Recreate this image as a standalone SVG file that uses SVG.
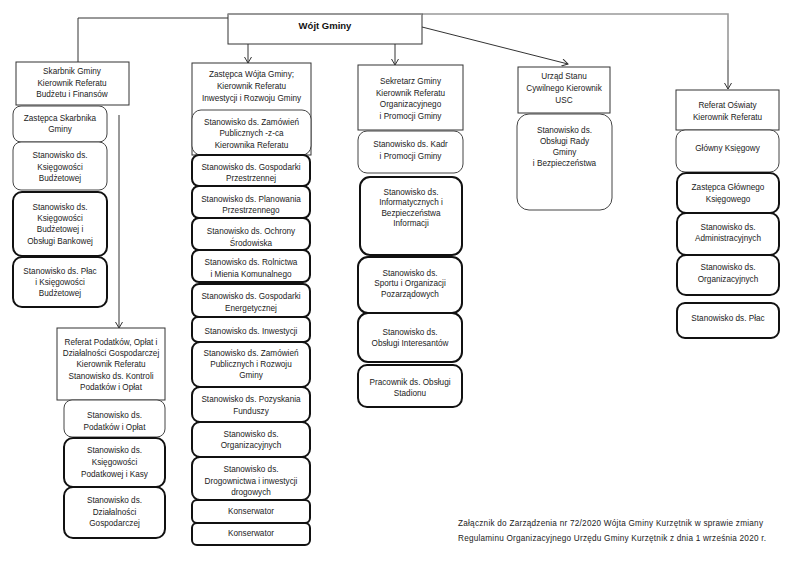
<svg xmlns="http://www.w3.org/2000/svg" width="800" height="561" viewBox="0 0 800 561">
<defs>
<style>
.t{font-family:"Liberation Sans",Arial,sans-serif;font-size:8.2px;text-anchor:middle;fill:#222}
.h{font-family:"Liberation Sans",Arial,sans-serif;font-size:9.5px;font-weight:bold;text-anchor:middle;fill:#111}
.f{font-family:"Liberation Sans",Arial,sans-serif;font-size:8.2px;fill:#222}
.box{fill:#fff;stroke:#333;stroke-width:1}
.thin{fill:#fff;stroke:#444;stroke-width:1}
.thick{fill:#fff;stroke:#111;stroke-width:2}
.c{fill:none;stroke:#333;stroke-width:1}
.g{fill:none;stroke:#999;stroke-width:1.6}
</style>
<marker id="a" markerWidth="8" markerHeight="8" refX="7" refY="4" orient="auto" markerUnits="userSpaceOnUse">
<polyline points="1,0.5 7,4 1,7.5" fill="none" stroke="#333" stroke-width="1"/>
</marker>
</defs>
<rect width="800" height="561" fill="#fff"/>
<g id="connectors">
<polyline class="c" points="228,18 78,18 78,62"/>
<line class="c" x1="248" y1="44" x2="248" y2="63" marker-end="url(#a)"/>
<line class="c" x1="395" y1="44" x2="395" y2="65" marker-end="url(#a)"/>
<line class="c" x1="422" y1="27" x2="568" y2="64" marker-end="url(#a)"/>
<polyline class="g" points="422,14 728,14 728,60"/>
<line class="c" x1="728" y1="60" x2="728" y2="89" marker-end="url(#a)"/>
<line class="c" x1="119" y1="115" x2="119" y2="328" marker-end="url(#a)"/>
</g>
<g id="wojt"><rect class="box" x="228" y="14" width="194" height="30"/><line x1="228" y1="14" x2="422" y2="14" stroke="#999" stroke-width="1.6"/><text class="h" x="325" y="29">Wójt Gminy</text></g>

<g id="skarbnik"><rect class="box" x="16" y="62" width="113" height="43"/><text class="t" x="72" y="74">Skarbnik Gminy</text><text class="t" x="72" y="86">Kierownik Referatu</text><text class="t" x="72" y="97">Budżetu i Finansów</text></g>
<g id="zast-skarbnika"><rect class="thin" x="13" y="106" width="94" height="36" rx="8"/><text class="t" x="60" y="121">Zastępca Skarbnika</text><text class="t" x="60" y="132">Gminy</text></g>
<g id="ksieg-budz"><rect class="thin" x="13" y="142" width="94" height="48" rx="8"/><text class="t" x="60" y="158">Stanowisko ds.</text><text class="t" x="60" y="170">Księgowości</text><text class="t" x="60" y="181">Budżetowej</text></g>
<g id="ksieg-bank"><rect class="thick" x="13" y="192" width="94" height="64" rx="9"/><text class="t" x="60" y="210">Stanowisko ds.</text><text class="t" x="60" y="221">Księgowości</text><text class="t" x="60" y="232">Budżetowej i</text><text class="t" x="60" y="244">Obsługi Bankowej</text></g>
<g id="place"><rect class="thick" x="13" y="257" width="94" height="50" rx="9"/><text class="t" x="60" y="274">Stanowisko ds. Płac</text><text class="t" x="60" y="285">i Księgowości</text><text class="t" x="60" y="296">Budżetowej</text></g>

<g id="ref-podatkow"><rect class="box" x="57" y="328" width="108" height="72"/><text class="t" x="111" y="345">Referat Podatków, Opłat i</text><text class="t" x="111" y="356">Działalności Gospodarczej</text><text class="t" x="111" y="367">Kierownik Referatu</text><text class="t" x="111" y="379">Stanowisko ds. Kontroli</text><text class="t" x="111" y="390">Podatków i Opłat</text></g>
<g id="podatki-oplaty"><rect class="thin" x="64" y="400" width="101" height="37" rx="8"/><text class="t" x="114.5" y="418">Stanowisko ds.</text><text class="t" x="114.5" y="430">Podatków i Opłat</text></g>
<g id="ksieg-pod"><rect class="thick" x="64" y="438" width="101" height="49" rx="9"/><text class="t" x="114.5" y="453">Stanowisko ds.</text><text class="t" x="114.5" y="465">Księgowości</text><text class="t" x="114.5" y="477">Podatkowej i Kasy</text></g>
<g id="dzialalnosc"><rect class="thick" x="64" y="487" width="101" height="51" rx="9"/><text class="t" x="114.5" y="503">Stanowisko ds.</text><text class="t" x="114.5" y="515">Działalności</text><text class="t" x="114.5" y="526">Gospodarczej</text></g>

<g id="zastepca-wojta"><rect class="box" x="192" y="63" width="119" height="92"/><text class="t" x="251.5" y="77">Zastępca Wójta Gminy;</text><text class="t" x="251.5" y="89">Kierownik Referatu</text><text class="t" x="251.5" y="101">Inwestycji i Rozwoju Gminy</text></g>
<g id="zamowien-zca"><rect class="thin" x="192" y="110" width="119" height="45" rx="9"/><text class="t" x="251.5" y="125">Stanowisko ds. Zamówień</text><text class="t" x="251.5" y="136">Publicznych -z-ca</text><text class="t" x="251.5" y="148">Kierownika Referatu</text></g>
<g id="gosp-przestrz"><rect class="thick" x="192" y="155" width="118" height="31" rx="7"/><text class="t" x="251" y="170">Stanowisko ds. Gospodarki</text><text class="t" x="251" y="181">Przestrzennej</text></g>
<g id="planowania"><rect class="thick" x="192" y="186" width="118" height="32" rx="7"/><text class="t" x="251" y="202">Stanowisko ds. Planowania</text><text class="t" x="251" y="213">Przestrzennego</text></g>
<g id="ochrony"><rect class="thick" x="192" y="218" width="118" height="32" rx="7"/><text class="t" x="251" y="234">Stanowisko ds. Ochrony</text><text class="t" x="251" y="246">Środowiska</text></g>
<g id="rolnictwa"><rect class="thick" x="192" y="250" width="118" height="32" rx="7"/><text class="t" x="251" y="265">Stanowisko ds. Rolnictwa</text><text class="t" x="251" y="277">i Mienia Komunalnego</text></g>
<g id="energetycznej"><rect class="thick" x="192" y="284" width="118" height="33" rx="7"/><text class="t" x="251" y="299">Stanowisko ds. Gospodarki</text><text class="t" x="251" y="311">Energetycznej</text></g>
<g id="inwestycji"><rect class="thick" x="192" y="317" width="118" height="25" rx="6"/><text class="t" x="251" y="334">Stanowisko ds. Inwestycji</text></g>
<g id="zam-pub"><rect class="thick" x="192" y="342" width="118" height="45" rx="8"/><text class="t" x="251" y="356">Stanowisko ds. Zamówień</text><text class="t" x="251" y="367">Publicznych i Rozwoju</text><text class="t" x="251" y="378">Gminy</text></g>
<g id="pozyskania"><rect class="thick" x="192" y="387" width="118" height="35" rx="8"/><text class="t" x="251" y="402">Stanowisko ds. Pozyskania</text><text class="t" x="251" y="414">Funduszy</text></g>
<g id="organizacyjnych-2"><rect class="thick" x="192" y="422" width="118" height="35" rx="8"/><text class="t" x="251" y="437">Stanowisko ds.</text><text class="t" x="251" y="448">Organizacyjnych</text></g>
<g id="drogownictwa"><rect class="thick" x="192" y="457" width="118" height="43" rx="8"/><text class="t" x="251" y="472">Stanowisko ds.</text><text class="t" x="251" y="484">Drogownictwa i inwestycji</text><text class="t" x="251" y="495">drogowych</text></g>
<g id="konserwator-1"><rect class="thick" x="192" y="500" width="118" height="23" rx="5"/><text class="t" x="251" y="514">Konserwator</text></g>
<g id="konserwator-2"><rect class="thick" x="192" y="523" width="118" height="22" rx="5"/><text class="t" x="251" y="536">Konserwator</text></g>

<g id="sekretarz"><rect class="box" x="358" y="65" width="105" height="65"/><text class="t" x="410.5" y="84">Sekretarz Gminy</text><text class="t" x="410.5" y="96">Kierownik Referatu</text><text class="t" x="410.5" y="107">Organizacyjnego</text><text class="t" x="410.5" y="119">i Promocji Gminy</text></g>
<g id="kadr"><rect class="thin" x="358" y="131" width="105" height="42" rx="9"/><text class="t" x="410.5" y="147">Stanowisko ds. Kadr</text><text class="t" x="410.5" y="159">i Promocji Gminy</text></g>
<g id="informatycznych"><rect class="thick" x="360" y="177" width="102" height="78" rx="10"/><text class="t" x="411" y="195">Stanowisko ds.</text><text class="t" x="411" y="205">Informatycznych i</text><text class="t" x="411" y="216">Bezpieczeństwa</text><text class="t" x="411" y="226">Informacji</text></g>
<g id="sportu"><rect class="thick" x="358" y="257" width="104" height="56" rx="10"/><text class="t" x="410" y="276">Stanowisko ds.</text><text class="t" x="410" y="286">Sportu i Organizacji</text><text class="t" x="410" y="297">Pozarządowych</text></g>
<g id="interesantow"><rect class="thick" x="358" y="313" width="104" height="49" rx="10"/><text class="t" x="410" y="335">Stanowisko ds.</text><text class="t" x="410" y="346">Obsługi Interesantów</text></g>
<g id="stadionu"><rect class="thick" x="358" y="365" width="104" height="42" rx="9"/><text class="t" x="410" y="385">Pracownik ds. Obsługi</text><text class="t" x="410" y="396">Stadionu</text></g>

<g id="usc"><rect class="box" x="518" y="67" width="92" height="46"/><text class="t" x="564" y="79">Urząd Stanu</text><text class="t" x="564" y="91">Cywilnego Kierownik</text><text class="t" x="564" y="103">USC</text></g>
<g id="rady"><rect class="thin" x="517" y="114" width="95" height="96" rx="12"/><text class="t" x="564.5" y="133">Stanowisko ds.</text><text class="t" x="564.5" y="144">Obsługi Rady</text><text class="t" x="564.5" y="155">Gminy</text><text class="t" x="564.5" y="166">i Bezpieczeństwa</text></g>

<g id="oswiaty"><rect class="box" x="676" y="90" width="103" height="40"/><text class="t" x="727.5" y="108">Referat Oświaty</text><text class="t" x="727.5" y="120">Kierownik Referatu</text></g>
<g id="glowny"><rect class="thin" x="676" y="130" width="103" height="42" rx="9"/><text class="t" x="727.5" y="151">Główny Księgowy</text></g>
<g id="zast-glownego"><rect class="thick" x="677" y="173" width="102" height="40" rx="9"/><text class="t" x="728" y="190">Zastępca Głównego</text><text class="t" x="728" y="202">Księgowego</text></g>
<g id="administracyjnych"><rect class="thick" x="677" y="213" width="102" height="42" rx="9"/><text class="t" x="728" y="230">Stanowisko ds.</text><text class="t" x="728" y="241">Administracyjnych</text></g>
<g id="organizacyjnych-5"><rect class="thick" x="677" y="255" width="102" height="40" rx="9"/><text class="t" x="728" y="270">Stanowisko ds.</text><text class="t" x="728" y="282">Organizacyjnych</text></g>
<g id="plac-5"><rect class="thick" x="677" y="303" width="102" height="35" rx="8"/><text class="t" x="728" y="321">Stanowisko ds. Płac</text></g>

<g id="footer"><text class="f" x="458" y="526" textLength="305" lengthAdjust="spacing">Załącznik do Zarządzenia nr 72/2020 Wójta Gminy Kurzętnik w sprawie zmiany</text><text class="f" x="458" y="541" textLength="308" lengthAdjust="spacing">Regulaminu Organizacyjnego Urzędu Gminy Kurzętnik z dnia 1 września 2020 r.</text></g>
</svg>
